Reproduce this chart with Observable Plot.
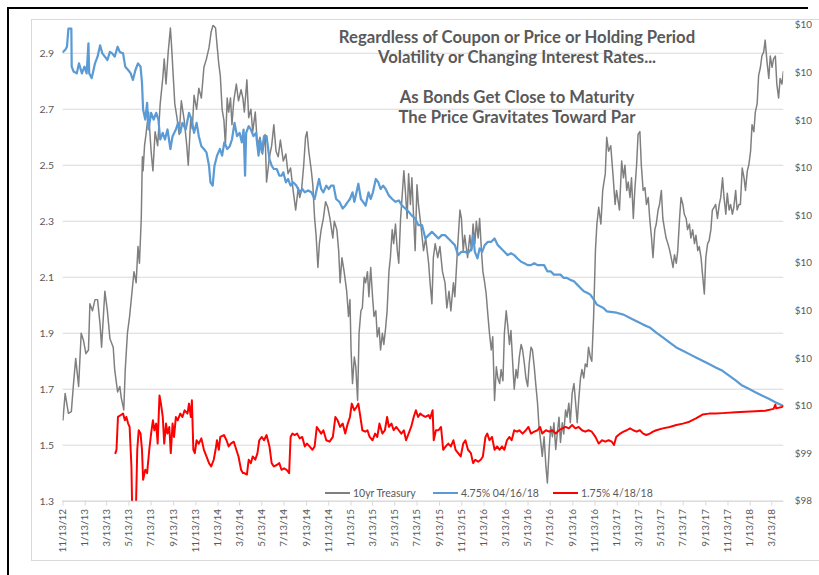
<!DOCTYPE html>
<html>
<head>
<meta charset="utf-8">
<script src="https://cdn.jsdelivr.net/npm/d3@7"></script>
<script src="https://cdn.jsdelivr.net/npm/@observablehq/plot@0.6"></script>
<style>
  html, body { margin: 0; padding: 0; background: #fff; overflow: hidden; }
  #wrap { position: relative; width: 819px; height: 575px; font-family: Lato, "Open Sans", sans-serif; color: #595959; overflow: hidden; }
  #chart { position: absolute; left: 0; top: 0; width: 812px; height: 575px; overflow: hidden; }
  .blk-top { position: absolute; left: 7px; top: 7px; width: 801px; height: 2px; background: #000; }
  .blk-left { position: absolute; left: 7px; top: 7px; width: 2px; height: 570px; background: #000; }
  .frame { position: absolute; left: 31px; top: 19px; width: 800px; height: 540px; border: 1px solid #d9d9d9; border-right: none; }
  .title { position: absolute; left: 267px; top: 27px; width: 500px; text-align: center; font-weight: 700; font-size: 16.7px; line-height: 20px; color: #595959; }
  .leg { position: absolute; top: 486px; height: 14px; display: flex; align-items: center; font-size: 10.5px; color: #595959; white-space: nowrap; }
  .leg span.sw { display: inline-block; height: 2px; margin-right: 3px; }
</style>
</head>
<body>
<div id="wrap">
  <div class="frame"></div>
  <div class="blk-top"></div>
  <div class="blk-left"></div>
  <div id="chart"></div>
  <div class="title" id="title"></div>
  <div id="legend"></div>
</div>
<script>
// ---------------- DATA ----------------
const startDate = "2012-11-13";           // x = days since this date
const titleLines = [
  "Regardless of Coupon or Price or Holding Period",
  "Volatility or Changing Interest Rates...",
  "",
  "As Bonds Get Close to Maturity",
  "The Price Gravitates Toward Par"
];
const seriesNames = ["10yr Treasury", "4.75% 04/16/18", "1.75% 4/18/18"];
const seriesColors = ["#7f7f7f", "#5b9bd5", "#ff0000"];
const tickDates = [
  "2012-11-13","2013-01-13","2013-03-13","2013-05-13","2013-07-13","2013-09-13",
  "2013-11-13","2014-01-13","2014-03-13","2014-05-13","2014-07-13","2014-09-13",
  "2014-11-13","2015-01-13","2015-03-13","2015-05-13","2015-07-13","2015-09-13",
  "2015-11-13","2016-01-13","2016-03-13","2016-05-13","2016-07-13","2016-09-13",
  "2016-11-13","2017-01-13","2017-03-13","2017-05-13","2017-07-13","2017-09-13",
  "2017-11-13","2018-01-13","2018-03-13"
];
const leftTicks = [1.3, 1.5, 1.7, 1.9, 2.1, 2.3, 2.5, 2.7, 2.9];
const leftDomain = [1.3, 3.0];
const rightTicks = [98, 99, 100, 101, 102, 103, 104, 105, 106, 107, 108];
const rightDomain = [98, 108];
const lastDay = 1979;

// 10yr Treasury yield: [day, %]
const treasury = [[0,1.59],[6,1.685],[15,1.614],[23,1.62],[29,1.72],[35,1.81],[43,1.71],[50,1.90],[56,1.876],[63,1.827],[70,1.84],[74,2.005],[81,1.98],[88,2.02],[95,2.02],[102,1.93],[106,1.85],[115,2.05],[122,1.98],[129,1.88],[138,1.85],[142,1.77],[150,1.69],[156,1.71],[160,1.67],[167,1.626],[171,1.77],[177,1.90],[183,1.96],[189,2.04],[195,2.12],[201,2.08],[206,2.21],[210,2.15],[215,2.31],[218,2.53],[220,2.48],[224,2.57],[228,2.61],[235,2.69],[242,2.55],[247,2.48],[253,2.62],[260,2.57],[267,2.72],[274,2.81],[278,2.88],[283,2.79],[289,2.905],[295,2.99],[298,2.93],[304,2.79],[307,2.72],[313,2.67],[319,2.61],[325,2.73],[333,2.66],[340,2.57],[344,2.50],[351,2.67],[355,2.63],[360,2.75],[367,2.70],[373,2.775],[380,2.74],[387,2.85],[394,2.88],[401,2.92],[407,2.977],[412,3.0],[419,2.99],[423,2.93],[428,2.86],[432,2.82],[437,2.70],[442,2.66],[446,2.57],[451,2.74],[455,2.69],[460,2.74],[464,2.645],[469,2.73],[476,2.79],[482,2.73],[489,2.77],[494,2.74],
[498,2.69],[505,2.805],[510,2.67],[516,2.70],[521,2.62],[528,2.69],[534,2.57],[541,2.60],[548,2.54],[555,2.61],[559,2.44],[567,2.53],[573,2.57],[579,2.645],[585,2.55],[591,2.53],[597,2.59],[605,2.515],[612,2.54],[618,2.47],[625,2.49],[632,2.41],[639,2.34],[646,2.42],[650,2.385],[655,2.41],[661,2.50],[666,2.60],[670,2.62],[675,2.55],[682,2.48],[686,2.43],[691,2.31],[695,2.25],[700,2.135],[704,2.22],[709,2.27],[715,2.31],[721,2.37],[727,2.35],[733,2.31],[741,2.24],[745,2.30],[752,2.27],[757,2.195],[761,2.08],[766,2.17],[772,2.12],[779,2.05],[784,1.96],[788,2.02],[791,1.84],[795,1.72],[800,1.815],[804,1.78],[809,1.66],[813,1.90],[818,1.98],[822,1.99],[827,2.10],[831,2.08],[836,2.12],[840,2.03],[845,2.135],[850,2.03],[854,1.96],[859,1.98],[863,1.887],[868,1.92],[872,1.84],[877,1.90],[881,1.86],[886,1.92],[890,1.98],[895,2.12],[899,2.17],[904,2.27],[908,2.22],[913,2.29],[918,2.195],[922,2.15],[927,2.31],[931,2.385],[936,2.48],[940,2.41],[945,2.31],[949,2.47],[954,2.36],[958,2.455],[963,2.31],[967,2.195],[972,2.43],[976,2.36],
[984,2.27],[990,2.195],[996,2.24],[1004,2.15],[1008,2.08],[1013,2.005],[1017,2.17],[1022,2.22],[1029,2.17],[1035,2.21],[1042,2.12],[1049,2.08],[1054,1.99],[1060,2.05],[1065,1.98],[1072,2.08],[1076,2.03],[1083,2.195],[1090,2.34],[1094,2.31],[1099,2.195],[1103,2.25],[1111,2.17],[1117,2.25],[1122,2.195],[1126,2.29],[1131,2.22],[1135,2.30],[1140,2.24],[1144,2.31],[1149,2.195],[1153,2.12],[1158,2.08],[1162,2.04],[1167,1.96],[1171,1.90],[1176,1.84],[1180,1.887],[1185,1.66],[1190,1.78],[1194,1.74],[1199,1.72],[1203,1.77],[1208,1.73],[1212,1.90],[1217,1.98],[1221,1.93],[1226,1.86],[1230,1.91],[1235,1.79],[1239,1.70],[1244,1.77],[1248,1.74],[1253,1.815],[1258,1.86],[1262,1.84],[1267,1.79],[1271,1.74],[1276,1.71],[1280,1.79],[1285,1.85],[1289,1.84],[1294,1.78],[1298,1.72],[1303,1.65],[1307,1.567],[1312,1.51],[1316,1.46],[1321,1.53],[1326,1.425],[1330,1.365],[1335,1.485],[1339,1.567],[1344,1.53],[1348,1.58],[1353,1.485],[1357,1.54],[1362,1.60],[1366,1.51],[1371,1.58],[1375,1.54],[1380,1.626],[1384,1.60],[1389,1.65],[1393,1.58],[1398,1.685],[1403,1.72],[1407,1.66],[1412,1.58],[1416,1.66],[1421,1.74],[1425,1.77],[1430,1.74],[1434,1.79],[1439,1.78],[1443,1.85],[1448,1.815],[1452,1.80],
[1457,1.96],[1462,2.195],[1466,2.29],[1471,2.35],[1477,2.29],[1482,2.41],[1489,2.47],[1493,2.60],[1498,2.55],[1504,2.57],[1510,2.47],[1516,2.36],[1520,2.41],[1528,2.34],[1534,2.515],[1539,2.455],[1543,2.50],[1548,2.41],[1552,2.44],[1557,2.385],[1561,2.455],[1566,2.31],[1570,2.41],[1575,2.50],[1579,2.61],[1584,2.62],[1588,2.50],[1593,2.41],[1598,2.42],[1602,2.36],[1607,2.385],[1611,2.31],[1616,2.24],[1620,2.17],[1625,2.27],[1629,2.29],[1634,2.34],[1638,2.36],[1643,2.41],[1647,2.31],[1652,2.27],[1656,2.24],[1661,2.22],[1666,2.195],[1670,2.17],[1675,2.135],[1679,2.18],[1684,2.15],[1688,2.195],[1693,2.31],[1697,2.385],[1702,2.36],[1706,2.325],[1711,2.31],[1715,2.27],[1720,2.29],[1724,2.24],[1729,2.27],[1734,2.22],[1738,2.25],[1743,2.195],[1747,2.21],[1752,2.17],[1756,2.11],[1761,2.04],[1765,2.17],[1770,2.22],[1774,2.23],[1779,2.27],[1783,2.34],[1788,2.35],[1792,2.36],[1797,2.31],[1802,2.36],[1806,2.385],[1811,2.455],[1815,2.385],[1820,2.325],[1824,2.40],[1829,2.34],[1833,2.36],[1838,2.325],[1842,2.35],[1847,2.41],[1851,2.34],[1856,2.36],[1860,2.36],[1865,2.49],[1870,2.455],[1874,2.41],[1879,2.48],[1883,2.50],[1888,2.55],[1892,2.645],[1897,2.62],[1901,2.69],[1906,2.72],[1910,2.82],[1915,2.85],[1919,2.89],[1924,2.905],[1928,2.947],[1933,2.87],[1938,2.81],[1942,2.89],[1947,2.85],[1951,2.88],[1956,2.89],[1960,2.79],[1965,2.74],[1969,2.81],[1974,2.79],[1978,2.835]];

// 4.75% 04/16/18 bond price: [day, $]
const bond475 = [[0,107.44],[6,107.48],[11,107.55],[15,107.93],[23,107.93],[24,107.13],[29,107.03],[38,106.99],[44,107.2],[52,106.99],[59,107.13],[65,106.99],[70,107.62],[72,106.99],[79,106.89],[88,107.2],[95,107.34],[102,107.58],[108,107.41],[115,107.34],[122,107.27],[129,107.44],[135,107.41],[142,107.34],[150,107.55],[156,107.44],[165,107.41],[171,107.13],[179,107.06],[186,106.99],[192,106.85],[199,107.06],[206,107.2],[213,107.13],[217,106.79],[220,106.23],[226,106.02],[231,106.37],[235,105.81],[242,106.16],[249,106.02],[256,106.16],[262,106.02],[267,105.6],[274,105.74],[280,105.6],[287,105.81],[295,105.4],[301,105.67],[310,105.81],[316,105.95],[322,105.74],[328,105.95],[337,105.81],[346,106.16],[353,106.02],[360,105.74],[367,105.95],[373,105.67],[380,105.46],[387,105.4],[394,105.33],[401,105.05],[405,104.7],[411,104.63],[416,105.05],[423,105.26],[431,105.4],[437,105.26],[443,105.54],[451,105.4],[458,105.46],[464,105.6],[471,105.95],[478,105.67],[485,105.74],[491,105.54],
[496,105.81],[500,104.84],[503,105.74],[510,105.88],[516,105.81],[523,105.67],[530,105.74],[537,105.26],[541,105.6],[546,105.33],[552,105.67],[559,105.67],[567,105.19],[573,105.05],[579,104.98],[587,104.98],[594,104.84],[600,104.84],[605,104.91],[612,104.7],[618,104.77],[625,104.63],[632,104.7],[641,104.63],[650,104.49],[657,104.56],[664,104.49],[673,104.53],[682,104.49],[691,104.35],[697,104.56],[703,104.77],[709,104.56],[715,104.49],[723,104.63],[730,104.56],[736,104.63],[743,104.63],[750,104.35],[759,104.29],[768,104.15],[775,104.21],[782,104.29],[788,104.35],[795,104.49],[800,104.29],[806,104.49],[811,104.67],[818,104.35],[824,104.29],[831,104.21],[839,104.49],[845,104.35],[851,104.49],[859,104.77],[866,104.7],[872,104.56],[879,104.63],[886,104.56],[895,104.42],[904,104.35],[913,104.29],[922,104.32],[931,104.21],[940,104.15],[949,104.08],[958,104.0],[967,103.94],[976,103.8],
[986,103.8],[995,103.52],[1004,103.59],[1013,103.66],[1022,103.59],[1031,103.52],[1040,103.59],[1049,103.59],[1058,103.52],[1067,103.45],[1076,103.38],[1085,103.17],[1094,103.24],[1103,103.24],[1112,103.21],[1122,103.31],[1126,103.59],[1131,103.24],[1138,103.1],[1144,103.31],[1151,103.24],[1158,103.38],[1167,103.45],[1176,103.45],[1185,103.52],[1194,103.38],[1203,103.31],[1212,103.24],[1221,103.17],[1230,103.21],[1239,103.17],[1248,103.1],[1258,103.03],[1267,103.0],[1276,102.96],[1285,102.96],[1294,103.0],[1303,102.96],[1312,102.96],[1321,102.96],[1330,102.83],[1339,102.83],[1348,102.76],[1357,102.76],[1366,102.76],[1375,102.69],[1384,102.69],[1393,102.65],[1403,102.62],[1412,102.55],[1421,102.48],[1430,102.41],[1439,102.38],[1448,102.34],[1457,102.24],[1466,102.13],
[1484,102.06],[1493,101.99],[1520,101.96],[1539,101.92],[1557,101.85],[1575,101.78],[1593,101.71],[1611,101.65],[1629,101.54],[1647,101.44],[1666,101.33],[1684,101.23],[1702,101.16],[1720,101.09],[1738,101.02],[1756,100.95],[1774,100.88],[1792,100.81],[1811,100.74],[1829,100.64],[1847,100.54],[1865,100.43],[1883,100.36],[1901,100.29],[1919,100.22],[1938,100.15],[1956,100.08],[1978,100.0]];

// 1.75% 4/18/18 bond price: [day, $]
const bond175 = [[144,99.01],[147,99.08],[151,99.77],[159,99.81],[165,99.84],[170,99.70],[174,99.77],[179,99.63],[183,99.56],[188,98.73],[191,97.4],[199,97.4],[204,99.08],[208,99.49],[213,99.42],[217,99.08],[220,98.45],[226,98.66],[231,98.59],[237,99.08],[242,99.42],[247,99.70],[251,99.49],[256,99.63],[260,99.21],[265,100.22],[269,100.05],[274,99.77],[278,99.21],[283,99.63],[287,99.42],[292,99.56],[296,99.01],[301,99.63],[305,99.35],[310,99.77],[315,99.70],[322,99.84],[328,99.77],[334,99.91],[342,99.84],[346,100.05],[351,99.77],[354,100.12],[358,99.08],[362,99.01],[367,99.28],[373,99.21],[380,99.32],[387,99.08],[394,98.94],[401,98.80],[407,98.73],[414,98.87],[419,99.08],[423,99.28],[428,99.08],[432,99.35],[442,99.39],[449,99.28],[455,99.15],[461,99.21],[469,99.25],[476,99.08],[482,98.94],[489,98.66],[494,98.59],
[498,98.59],[505,98.56],[510,98.87],[516,98.80],[521,98.94],[528,98.87],[534,99.01],[539,99.28],[546,99.35],[552,99.28],[559,99.39],[567,99.15],[573,98.80],[579,98.73],[587,98.76],[594,98.80],[600,98.66],[607,98.69],[614,98.66],[621,98.59],[625,99.35],[630,99.42],[636,99.39],[643,99.42],[650,99.32],[657,99.35],[664,99.15],[670,99.21],[677,99.15],[685,99.08],[691,99.15],[697,99.56],[703,99.49],[709,99.42],[715,99.49],[723,99.28],[732,99.25],[741,99.35],[748,99.77],[754,99.70],[761,99.56],[768,99.63],[775,99.42],[782,99.63],[788,99.77],[793,100.05],[800,99.91],[806,99.98],[811,100.05],[818,99.70],[822,99.49],[830,99.46],[836,99.49],[842,99.35],[850,99.28],[857,99.42],[863,99.35],[869,99.63],[877,99.42],[884,99.49],[890,99.77],[895,99.56],[902,99.63],[908,99.49],[915,99.56],[922,99.49],[929,99.42],[936,99.49],[942,99.28],[949,99.42],[956,99.56],[963,99.77],[969,99.91],[975,99.77],[981,99.84],
[986,99.81],[995,99.77],[1004,99.81],[1008,99.74],[1015,99.91],[1018,99.28],[1024,99.49],[1031,99.49],[1038,99.56],[1044,99.08],[1051,99.15],[1058,99.21],[1065,99.15],[1072,99.28],[1078,99.08],[1085,99.01],[1092,98.94],[1099,99.21],[1105,99.28],[1112,99.08],[1120,99.01],[1126,98.80],[1132,98.87],[1140,98.83],[1147,98.87],[1153,98.94],[1160,99.35],[1165,99.42],[1171,99.28],[1178,99.35],[1185,99.08],[1192,99.15],[1199,99.08],[1205,99.15],[1212,99.08],[1219,99.28],[1226,99.35],[1232,99.28],[1239,99.49],[1247,99.46],[1253,99.49],[1262,99.42],[1271,99.49],[1278,99.56],[1285,99.42],[1294,99.46],[1303,99.49],[1310,99.56],[1316,99.42],[1326,99.49],[1335,99.46],[1344,99.49],[1353,99.42],[1362,99.49],[1371,99.53],[1380,99.56],[1389,99.53],[1398,99.60],[1407,99.53],[1416,99.56],[1425,99.49],[1434,99.46],[1443,99.49],[1452,99.46],[1462,99.35],[1471,99.21],
[1480,99.28],[1489,99.25],[1498,99.28],[1507,99.25],[1513,99.18],[1519,99.35],[1530,99.42],[1539,99.46],[1548,99.49],[1557,99.53],[1566,99.49],[1575,99.46],[1584,99.49],[1593,99.42],[1602,99.39],[1611,99.42],[1620,99.46],[1629,99.49],[1647,99.53],[1666,99.56],[1684,99.60],[1702,99.63],[1720,99.67],[1738,99.74],[1756,99.82],[1774,99.84],[1792,99.84],[1811,99.85],[1847,99.87],[1874,99.88],[1901,99.89],[1928,99.9],[1951,99.94],[1956,100.03],[1958,99.95],[1974,99.98],[1978,100.0]];

// ---------------- BUILD ----------------
const t0 = Date.parse(startDate + "T00:00:00Z");
const toDate = d => new Date(t0 + d * 864e5);
// secondary (right) axis mapped onto the primary scale
const secToPrim = d3.scaleLinear(rightDomain, leftDomain);

const gray = treasury.map(([d, v]) => ({date: toDate(d), value: v}));
const blue = bond475.map(([d, v]) => ({date: toDate(d), value: secToPrim(v)}));
const red = bond175.map(([d, v]) => ({date: toDate(d), value: secToPrim(v)}));

const font = "Lato, 'Open Sans', sans-serif";
const chart = Plot.plot({
  width: 819,
  height: 575,
  marginLeft: 63,
  marginRight: 29,
  marginTop: 25,
  marginBottom: 70,
  style: {background: "transparent", fontFamily: font, color: "#595959"},
  x: {type: "utc", domain: [toDate(0), toDate(lastDay)]},
  y: {domain: leftDomain},
  marks: [
    Plot.gridY(leftTicks, {stroke: "#d9d9d9", strokeOpacity: 1}),
    Plot.ruleY([leftDomain[0]], {stroke: "#d9d9d9", strokeWidth: 1}),
    Plot.axisX(tickDates.map(s => new Date(s + "T00:00:00Z")), {
      anchor: "bottom", tickRotate: -90, tickSize: 5, tickPadding: 3,
      stroke: "#d9d9d9", fill: "#595959", fontSize: 10,
      tickFormat: d3.utcFormat("%-m/%-d/%y"), label: null
    }),
    Plot.axisY(leftTicks, {
      anchor: "left", tickSize: 0, tickPadding: 9, fill: "#595959", fontSize: 10.5,
      tickFormat: d3.format(".1f"), label: null
    }),
    Plot.axisY(rightTicks.map(secToPrim), {
      anchor: "right", tickSize: 0, tickPadding: 11, fill: "#595959", fontSize: 10,
      textAnchor: "start",
      tickFormat: d => "$" + secToPrim.invert(d).toFixed(2), label: null
    }),
    Plot.line(gray, {x: "date", y: "value", stroke: seriesColors[0], strokeWidth: 1.5, clip: true}),
    Plot.line(blue, {x: "date", y: "value", stroke: seriesColors[1], strokeWidth: 2.25, clip: true}),
    Plot.line(red, {x: "date", y: "value", stroke: seriesColors[2], strokeWidth: 2, clip: true})
  ]
});
document.getElementById("chart").appendChild(chart);

// title
const title = document.getElementById("title");
titleLines.forEach(t => {
  const div = document.createElement("div");
  div.textContent = t || "\u00a0";
  title.appendChild(div);
});

// legend
const legendLeft = [325, 433, 553];
const legendSwatch = [25, 25, 25];
const legend = document.getElementById("legend");
seriesNames.forEach((name, i) => {
  const item = document.createElement("div");
  item.className = "leg";
  item.style.left = legendLeft[i] + "px";
  const sw = document.createElement("span");
  sw.className = "sw";
  sw.style.width = legendSwatch[i] + "px";
  sw.style.background = seriesColors[i];
  const tx = document.createElement("span");
  tx.textContent = name;
  item.appendChild(sw);
  item.appendChild(tx);
  legend.appendChild(item);
});
</script>
</body>
</html>
